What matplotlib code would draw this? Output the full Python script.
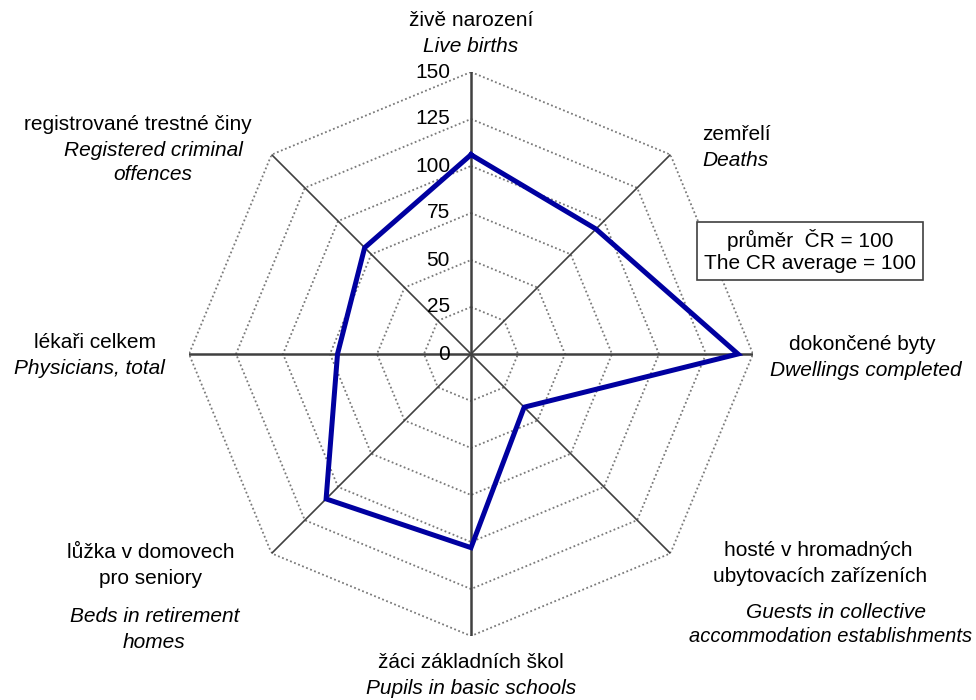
import numpy as np
import matplotlib.pyplot as plt
from matplotlib.transforms import offset_copy

plt.rcParams['font.family'] = ['Liberation Sans', 'DejaVu Sans']

# indicators, clockwise from top (CR average = 100)
categories = ['Live births', 'Deaths', 'Dwellings completed',
              'Guests in collective accommodation establishments',
              'Pupils in basic schools', 'Beds in retirement homes',
              'Physicians, total', 'Registered criminal offences']
values = [106, 94, 142, 40, 103, 109, 71, 80]
ticks = [0, 25, 50, 75, 100, 125, 150]

# (czech lines, english lines, x px, y px of each line)
labels = [
    (['živě narození'], ['Live births'], [(471, 20)], [(471, 46)]),
    (['zemřelí'], ['Deaths'], [(736, 135)], [(735, 160)]),
    (['dokončené byty'], ['Dwellings completed'], [(862, 345)], [(866, 370)]),
    (['hosté v hromadných', 'ubytovacích zařízeních'],
     ['Guests in collective', 'accommodation establishments'],
     [(818, 551), (820, 577)], [(836, 612), (831, 636)]),
    (['žáci základních škol'], ['Pupils in basic schools'], [(471, 662)], [(471, 688)]),
    (['lůžka v domovech', 'pro seniory'], ['Beds in retirement', 'homes'],
     [(151, 553), (151, 578)], [(155, 617), (154, 642)]),
    (['lékaři celkem'], ['Physicians, total'], [(95, 343)], [(89, 369)]),
    (['registrované trestné činy'], ['Registered criminal', 'offences'],
     [(138, 125)], [(153, 150), (153, 174)]),
]

W, H = 976, 700
fs = 15
fig = plt.figure(figsize=(W / 100, H / 100), dpi=100)
cx, cy, R = 471, 354, 282
ax = fig.add_axes([(cx - R) / W, (H - cy - R) / H, 2 * R / W, 2 * R / H],
                  projection='polar')
ax.set_theta_zero_location('N')
ax.set_theta_direction(-1)
ax.set_ylim(0, 150)
ax.grid(False)
ax.spines['polar'].set_visible(False)
ax.set_xticks([])
ax.set_yticks([])
ax.patch.set_alpha(0)

n = len(categories)
theta = np.linspace(0, 2 * np.pi, n, endpoint=False)
ring_t = np.append(theta, theta[0])

# octagon grid rings
for t in ticks[1:]:
    ax.plot(ring_t, [t] * (n + 1), color='#7a7a7a', lw=1.3, ls=(0, (1, 1.4)),
            zorder=1)
# spokes
for i, th in enumerate(theta):
    lw = 1.8 if i % 2 == 0 else 1.2
    ax.plot([th, th], [0, 150], color='#404040', lw=lw, zorder=2)

# data
vals = values + values[:1]
ax.plot(ring_t, vals, color='#0000A0', lw=3.6, solid_joinstyle='miter', zorder=3)

# scale labels
tr = offset_copy(ax.transData, fig=fig, x=-21, y=0, units='dots')
for t in ticks:
    ax.text(0, t, str(t), transform=tr, ha='right', va='center',
            fontsize=fs, zorder=4)

for cz, en, pcz, pen in labels:
    for s, (x, y) in zip(cz, pcz):
        fig.text(x / W, 1 - y / H, s, ha='center', va='center', fontsize=fs)
    for i, s in enumerate(en):
        x, y = pen[min(i, len(pen) - 1)]
        fig.text(x / W, 1 - y / H, s, ha='center', va='center',
                 fontsize=fs if len(s) < 25 else fs - 0.5, style='italic')

# CR average box
fig.text(810 / W, 1 - 251 / H, 'průměr  ČR = 100\nThe CR average = 100',
         ha='center', va='center', fontsize=fs, linespacing=1.2,
         bbox=dict(boxstyle='square,pad=0.35', fc='white', ec='#404040', lw=1.2))

fig.savefig('out.png', dpi=100)
